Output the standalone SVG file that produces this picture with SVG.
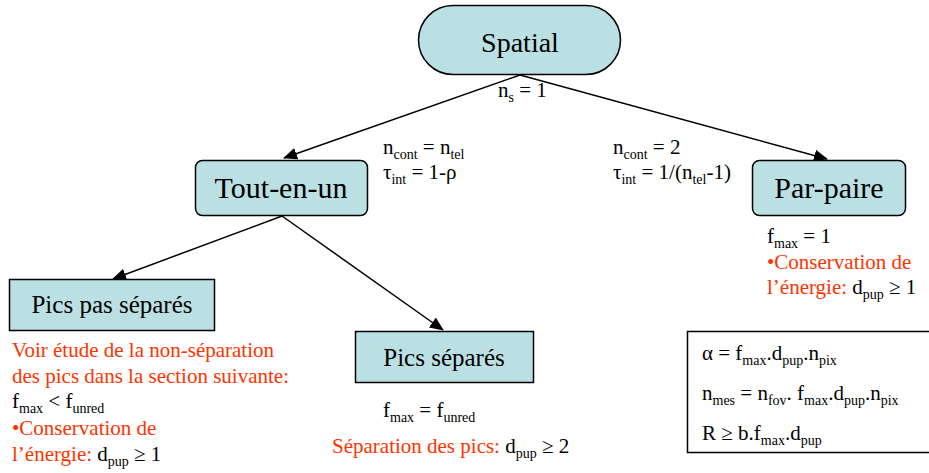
<svg xmlns="http://www.w3.org/2000/svg" width="929" height="473" viewBox="0 0 929 473">
<defs>
<style>
text{fill:#000;font-family:'Liberation Serif','Times New Roman',serif}
.node{fill:#BBE0E3;stroke:#000;stroke-width:1.5}
.t28{font-size:28px}
.t30{font-size:30px}
.t25{font-size:25px}
.lab{font-size:21px}
.red{fill:#FF3300}
.sub{font-size:14px}
.edge{stroke:#000;stroke-width:1.5;fill:none;marker-end:url(#arr)}
</style>
<marker id="arr" markerUnits="userSpaceOnUse" markerWidth="14" markerHeight="12" refX="13" refY="6" orient="auto">
<path d="M0,0 L14,6 L0,12 Z" fill="#000"/>
</marker>
</defs>
<rect width="929" height="473" fill="#fff"/>
<g id="connectors">
<line class="edge" x1="520" y1="75" x2="284" y2="158"/>
<line class="edge" x1="520" y1="75" x2="827" y2="159"/>
<line class="edge" x1="282" y1="216" x2="113" y2="279"/>
<line class="edge" x1="282" y1="216" x2="443" y2="330"/>
</g>
<g id="spatial">
<rect class="node" x="418.5" y="5.5" width="202" height="69" rx="34.5"/>
<text class="t28" x="520" y="52" text-anchor="middle">Spatial</text>
</g>
<g id="tout-en-un">
<rect class="node" x="195.5" y="160.5" width="172" height="55" rx="7"/>
<text class="t30" x="281" y="198" text-anchor="middle">Tout-en-un</text>
</g>
<g id="par-paire">
<rect class="node" x="752.5" y="160.5" width="153" height="55" rx="7"/>
<text class="t30" x="829" y="198" text-anchor="middle">Par-paire</text>
</g>
<g id="pics-pas-separes">
<rect class="node" x="9.5" y="279.5" width="205" height="51"/>
<text class="t25" x="112" y="313" text-anchor="middle">Pics pas séparés</text>
</g>
<g id="pics-separes">
<rect class="node" x="355.5" y="331.5" width="178" height="51"/>
<text class="t25" x="444" y="366" text-anchor="middle">Pics séparés</text>
</g>
<g id="labels">
<text class="lab" x="498" y="97">n<tspan class="sub" dy="5">s</tspan><tspan dy="-5"> = 1</tspan></text>
<text class="lab" x="383" y="154">n<tspan class="sub" dy="5">cont</tspan><tspan dy="-5"> = n</tspan><tspan class="sub" dy="5">tel</tspan></text>
<text class="lab" x="383" y="179">τ<tspan class="sub" dy="5">int</tspan><tspan dy="-5"> = 1-ρ</tspan></text>
<text class="lab" x="613" y="154">n<tspan class="sub" dy="5">cont</tspan><tspan dy="-5"> = 2</tspan></text>
<text class="lab" x="613" y="179">τ<tspan class="sub" dy="5">int</tspan><tspan dy="-5"> = 1/(n</tspan><tspan class="sub" dy="5">tel</tspan><tspan dy="-5">-1)</tspan></text>
</g>
<g id="par-paire-notes">
<text class="lab" x="767" y="243">f<tspan class="sub" dy="5">max</tspan><tspan dy="-5"> = 1</tspan></text>
<text class="lab red" x="767" y="269">•Conservation de</text>
<text class="lab" x="767" y="294"><tspan class="red">l’énergie: </tspan>d<tspan class="sub" dy="5">pup</tspan><tspan dy="-5"> ≥ 1</tspan></text>
</g>
<g id="pics-pas-separes-notes">
<text class="lab red" x="12" y="357">Voir étude de la non-séparation</text>
<text class="lab red" x="12" y="383">des pics dans la section suivante:</text>
<text class="lab" x="12" y="408">f<tspan class="sub" dy="5">max</tspan><tspan dy="-5"> &lt; f</tspan><tspan class="sub" dy="5">unred</tspan></text>
<text class="lab red" x="12" y="435">•Conservation de</text>
<text class="lab" x="12" y="461"><tspan class="red">l’énergie: </tspan>d<tspan class="sub" dy="5">pup</tspan><tspan dy="-5"> ≥ 1</tspan></text>
</g>
<g id="pics-separes-notes">
<text class="lab" x="383" y="417">f<tspan class="sub" dy="5">max</tspan><tspan dy="-5"> = f</tspan><tspan class="sub" dy="5">unred</tspan></text>
<text class="lab" x="332" y="453"><tspan class="red">Séparation des pics: </tspan>d<tspan class="sub" dy="5">pup</tspan><tspan dy="-5"> ≥ 2</tspan></text>
</g>
<g id="formula-box">
<rect x="687.5" y="331.5" width="250" height="121" fill="#fff" stroke="#000" stroke-width="1.5"/>
<text class="lab" x="702" y="360">α = f<tspan class="sub" dy="5">max</tspan><tspan dy="-5">.d</tspan><tspan class="sub" dy="5">pup</tspan><tspan dy="-5">.n</tspan><tspan class="sub" dy="5">pix</tspan></text>
<text class="lab" x="702" y="400">n<tspan class="sub" dy="5">mes</tspan><tspan dy="-5"> = n</tspan><tspan class="sub" dy="5">fov</tspan><tspan dy="-5">. f</tspan><tspan class="sub" dy="5">max</tspan><tspan dy="-5">.d</tspan><tspan class="sub" dy="5">pup</tspan><tspan dy="-5">.n</tspan><tspan class="sub" dy="5">pix</tspan></text>
<text class="lab" x="702" y="440">R ≥ b.f<tspan class="sub" dy="5">max</tspan><tspan dy="-5">.d</tspan><tspan class="sub" dy="5">pup</tspan></text>
</g>
</svg>
